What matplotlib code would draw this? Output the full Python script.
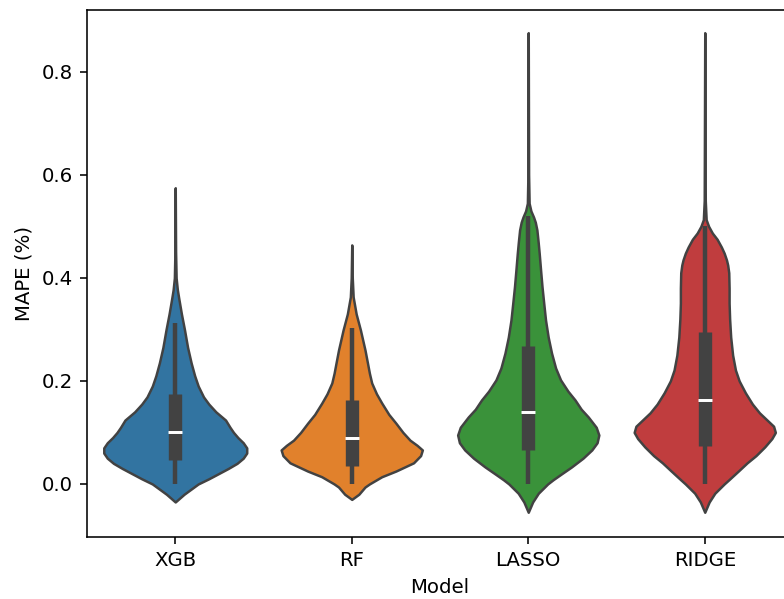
import matplotlib
matplotlib.use("Agg")
import matplotlib.pyplot as plt
import numpy as np

# models and their (saturated tab10) fill colours
models = ["XGB", "RF", "LASSO", "RIDGE"]
colors = ["#3274a1", "#e1812c", "#3a923a", "#c03d3e"]

# violin outlines: MAPE level -> half-width of the density (category units)
xgb_y = [-0.035, -0.02, -0.01, 0.0, 0.01, 0.02, 0.03, 0.04, 0.05, 0.06, 0.07, 0.08, 0.09,
         0.10, 0.11, 0.124, 0.14, 0.155, 0.169, 0.19, 0.21, 0.235, 0.265, 0.30, 0.33,
         0.36, 0.377, 0.40, 0.45, 0.575]
xgb_w = [0.0, 0.05, 0.09, 0.13, 0.19, 0.245, 0.30, 0.35, 0.385, 0.405, 0.405, 0.385, 0.355,
         0.33, 0.31, 0.285, 0.23, 0.19, 0.16, 0.13, 0.11, 0.09, 0.07, 0.052, 0.035,
         0.02, 0.012, 0.005, 0.002, 0.0]

rf_y = [-0.03, -0.02, -0.006, 0.0, 0.014, 0.025, 0.041, 0.055, 0.066, 0.075, 0.085, 0.10,
        0.118, 0.135, 0.157, 0.175, 0.196, 0.215, 0.235, 0.26, 0.299, 0.33, 0.363, 0.40, 0.464]
rf_w = [0.0, 0.04, 0.075, 0.10, 0.17, 0.25, 0.35, 0.39, 0.40, 0.37, 0.33, 0.29,
        0.25, 0.21, 0.17, 0.14, 0.113, 0.10, 0.089, 0.075, 0.049, 0.025, 0.008, 0.003, 0.0]

lasso_y = [-0.055, -0.035, -0.018, 0.0, 0.008, 0.02, 0.033, 0.05, 0.066, 0.08, 0.095, 0.11,
           0.13, 0.145, 0.163, 0.18, 0.202, 0.225, 0.254, 0.285, 0.318, 0.35, 0.383, 0.415,
           0.448, 0.47, 0.493, 0.508, 0.518, 0.53, 0.545, 0.60, 0.876]
lasso_w = [0.0, 0.025, 0.057, 0.11, 0.14, 0.19, 0.245, 0.31, 0.36, 0.39, 0.40, 0.385,
           0.34, 0.30, 0.265, 0.225, 0.183, 0.155, 0.132, 0.113, 0.098, 0.088, 0.078, 0.07,
           0.062, 0.056, 0.049, 0.04, 0.03, 0.015, 0.005, 0.002, 0.0]

ridge_y = [-0.055, -0.035, -0.018, 0.0, 0.008, 0.025, 0.041, 0.055, 0.072, 0.088, 0.100, 0.112,
           0.125, 0.138, 0.155, 0.177, 0.20, 0.221, 0.25, 0.285, 0.32, 0.351, 0.38, 0.41,
           0.425, 0.435, 0.448, 0.46, 0.475, 0.487, 0.50, 0.513, 0.55, 0.876]
ridge_w = [0.0, 0.025, 0.057, 0.11, 0.136, 0.19, 0.24, 0.29, 0.34, 0.38, 0.40, 0.39,
           0.35, 0.31, 0.27, 0.23, 0.195, 0.174, 0.158, 0.147, 0.141, 0.138, 0.138, 0.136,
           0.13, 0.123, 0.11, 0.094, 0.07, 0.043, 0.022, 0.008, 0.003, 0.0]

violin_y = [xgb_y, rf_y, lasso_y, ridge_y]
violin_w = [xgb_w, rf_w, lasso_w, ridge_w]

# inner box statistics
whis_lo = [0.0, 0.0, 0.0, 0.0]
q1 = [0.047, 0.035, 0.066, 0.074]
median = [0.101, 0.090, 0.140, 0.163]
q3 = [0.175, 0.163, 0.267, 0.295]
whis_hi = [0.313, 0.303, 0.52, 0.50]

DPI = 142.5
LINE = ".26"

fig = plt.figure(figsize=(784 / DPI, 599 / DPI), dpi=DPI)
ax = fig.add_axes([87 / 784, 62 / 599, 706 / 784, 527 / 599])

lw = 1.25
box_w = 6.75
for i, m in enumerate(models):
    y = np.array(violin_y[i])
    w = np.array(violin_w[i])
    ax.fill_betweenx(y, i - w, i + w, facecolor=colors[i], edgecolor=LINE,
                     linewidth=lw, joinstyle="round", zorder=2)
    ax.plot([i, i], [whis_lo[i], whis_hi[i]], color=LINE, lw=box_w / 3,
            solid_capstyle="butt", zorder=3)
    ax.plot([i, i], [q1[i], q3[i]], color=LINE, lw=box_w,
            solid_capstyle="butt", zorder=4)
    ax.plot([i], [median[i]], marker="_", ms=box_w, mew=1.5, color="white", zorder=5)

ax.set_xlim(-0.5, 3.5)
ax.set_ylim(-0.103, 0.92)
ax.set_xticks(range(len(models)))
ax.set_xticklabels(models)
ax.set_yticks([0.0, 0.2, 0.4, 0.6, 0.8])
ax.set_xlabel("Model")
ax.set_ylabel("MAPE (%)")

fig.savefig("out.png", dpi=DPI)
